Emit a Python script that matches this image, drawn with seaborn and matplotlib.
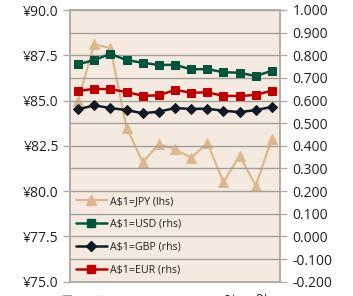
import matplotlib
matplotlib.use("Agg")
import matplotlib.pyplot as plt
import seaborn as sns
import pandas as pd
import numpy as np
from matplotlib.lines import Line2D

sns.set_theme(style="white")
plt.rcParams['font.family'] = ['Open Sans', 'DejaVu Sans']

periods = ["Jun-11", "Jul-11", "Aug-11", "Sep-11", "Oct-11", "Nov-11", "Dec-11",
           "Jan-12", "Feb-12", "Mar-12", "Apr-12", "May-12", "Jun-12"]
jpy = [85.0, 88.1, 87.9, 83.5, 81.6, 82.6, 82.3, 81.85, 82.65, 80.5, 81.95, 80.3, 82.9]
usd = [0.760, 0.779, 0.806, 0.779, 0.767, 0.757, 0.758, 0.738, 0.739, 0.725, 0.723, 0.708, 0.732]
gbp = [0.561, 0.579, 0.567, 0.558, 0.544, 0.551, 0.567, 0.563, 0.564, 0.555, 0.549, 0.558, 0.572]
eur = [0.642, 0.652, 0.650, 0.638, 0.621, 0.623, 0.647, 0.635, 0.636, 0.621, 0.620, 0.625, 0.644]
tick_labels = ["Jun-11", "Aug-11", "Oct-11", "Dec-11", "Feb-12", "Apr-12", "Jun-12"]

c_jpy = "#DDB88F"
c_usd = "#00553A"
c_gbp = "#0E1A24"
c_eur = "#C00000"
bg = "#F5EADF"
gridc = "#A39E99"
spinec = "#B0ABA6"

df = pd.DataFrame({"x": np.arange(len(periods)) + 0.5, "jpy": jpy, "usd": usd,
                   "gbp": gbp, "eur": eur})

fig = plt.figure(figsize=(3.53, 2.96), dpi=100)
ax = fig.add_axes([70/353, 1-281.7/296, 210/353, 271.7/296])
ax.set_facecolor(bg)
ax2 = ax.twinx()

# gridlines following right-axis ticks
for v in np.arange(-0.2, 1.0001, 0.1):
    ax2.axhline(v, color=gridc, lw=1.0, zorder=0)

sns.lineplot(data=df, x="x", y="jpy", ax=ax, color=c_jpy, marker="^", markersize=7,
             markeredgecolor=c_jpy, lw=1.6, zorder=3)
sns.lineplot(data=df, x="x", y="usd", ax=ax2, color=c_usd, marker="s", markersize=6,
             markeredgecolor=c_usd, lw=1.8, zorder=3)
sns.lineplot(data=df, x="x", y="gbp", ax=ax2, color=c_gbp, marker="D", markersize=5,
             markeredgecolor=c_gbp, lw=1.8, zorder=3)
sns.lineplot(data=df, x="x", y="eur", ax=ax2, color=c_eur, marker="s", markersize=6,
             markeredgecolor=c_eur, lw=1.8, zorder=3)

ax.set_xlim(0, len(periods))
ax.set_ylim(75, 90)
ax2.set_ylim(-0.2, 1.0)
ax.set_yticks(np.arange(75, 90.01, 2.5))
ax.set_yticklabels([f"¥{v:.1f}" for v in np.arange(75, 90.01, 2.5)])
ax2.set_yticks(np.arange(-0.2, 1.0001, 0.1))
ax2.set_yticklabels([f"{v:.3f}" for v in np.arange(-0.2, 1.0001, 0.1)])
ax.set_xticks(np.arange(0, len(periods), 2))
ax.set_xticklabels(tick_labels, rotation=90)
for a in (ax, ax2):
    a.set_xlabel("")
    a.set_ylabel("")
    for s in a.spines.values():
        s.set_color(spinec)
        s.set_linewidth(1.2)
ax.tick_params(axis="y", length=5, color=spinec, width=1, labelsize=10, pad=3, labelcolor="#222222")
ax2.tick_params(axis="y", length=5, color=spinec, width=1, labelsize=10, pad=4, labelcolor="#222222")
ax.tick_params(axis="x", length=4, color=spinec, width=1, labelsize=9, pad=3.7, labelcolor="#222222")
ax.grid(False)
ax2.grid(False)

handles = [
    Line2D([], [], color=c_jpy, marker="^", markersize=7, lw=1.6),
    Line2D([], [], color=c_usd, marker="s", markersize=6, lw=1.8),
    Line2D([], [], color=c_gbp, marker="D", markersize=5, lw=1.8),
    Line2D([], [], color=c_eur, marker="s", markersize=6, lw=1.8),
]
labels = ["A$1=JPY (lhs)", "A$1=USD (rhs)", "A$1=GBP (rhs)", "A$1=EUR (rhs)"]
leg = ax2.legend(handles, labels, loc="lower left", frameon=False, fontsize=7.7,
                 handlelength=2.9, labelspacing=1.12, borderaxespad=0.15,
                 handletextpad=0.3, borderpad=0.4)
for t in leg.get_texts():
    t.set_color("#222222")

fig.savefig("out.png", dpi=100)
